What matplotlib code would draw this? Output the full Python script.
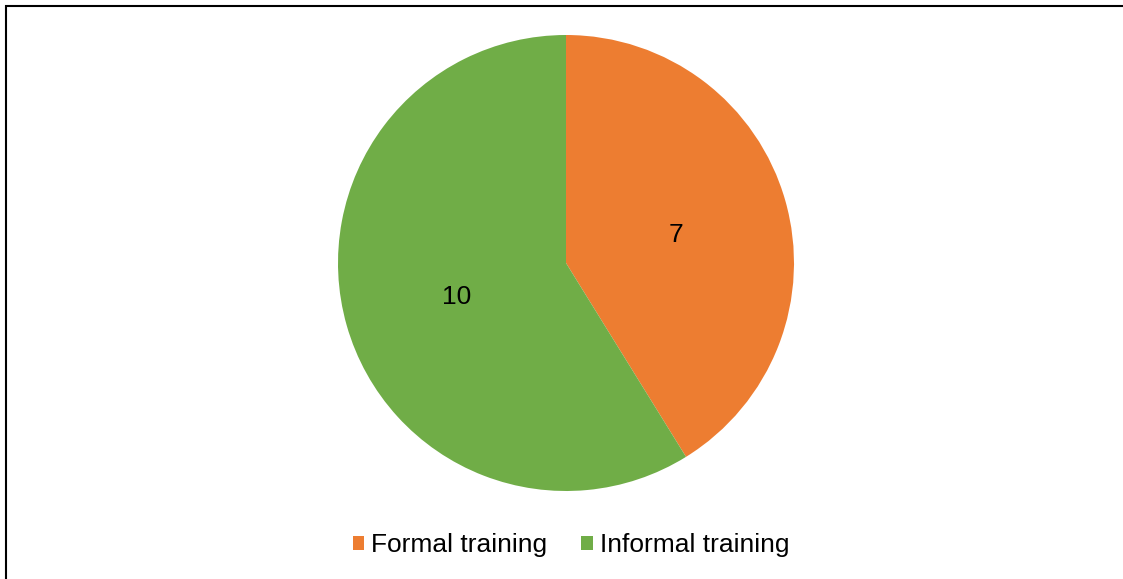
import matplotlib.pyplot as plt
from matplotlib.patches import Patch, Rectangle

plt.rcParams['font.family'] = ['Liberation Sans', 'DejaVu Sans']

categories = ["Formal training", "Informal training"]
values = [7, 10]
colors = ["#ED7D31", "#70AD47"]

W, H = 1123, 579
fig = plt.figure(figsize=(W / 100, H / 100), dpi=100)

# pie axes placed in pixel terms: center (566, 263), radius 228
cx, cy, r = 566, 263, 228
ax = fig.add_axes([(cx - r) / W, (H - cy - r) / H, 2 * r / W, 2 * r / H])
wedges, texts = ax.pie(values, colors=colors, startangle=90, counterclock=False,
                       labels=[str(v) for v in values], labeldistance=0.5,
                       radius=1, textprops=dict(fontsize=19, color="black"))
for t in texts:
    t.set_ha("center")
    t.set_va("center")
    x, y = t.get_position()
    t.set_position((x, y - 0.012))
ax.set_xlim(-1, 1)
ax.set_ylim(-1, 1)
ax.set_aspect("equal")
ax.axis("off")

# outer frame (only top and left visible in the crop)
fig.patches.append(Rectangle((6 / W, -0.1), 1.2, (H - 6) / H + 0.1,
                             transform=fig.transFigure, fill=False,
                             edgecolor="black", linewidth=1.5))

handles = [Patch(facecolor=c, edgecolor="none") for c in colors]
fig.legend(handles, categories, loc="center", bbox_to_anchor=(571 / W, (H - 545) / H),
           ncol=2, frameon=False, fontsize=19, handlelength=0.45, handleheight=0.45,
           handletextpad=0.25, columnspacing=1.3)

fig.savefig("out.png", dpi=100)
